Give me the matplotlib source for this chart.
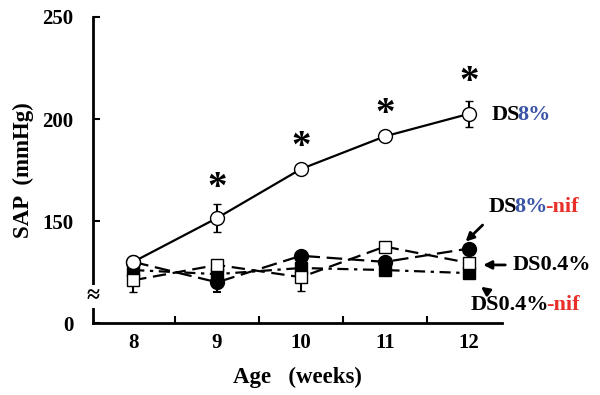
import matplotlib
matplotlib.use("Agg")
import matplotlib.pyplot as plt
import numpy as np

plt.rcParams['font.family'] = ['Liberation Serif', 'DejaVu Serif']
plt.rcParams['font.weight'] = 'bold'

weeks = [8, 9, 10, 11, 12]

# SAP (mmHg)
ds8 = [130, 151.5, 175.5, 191.5, 202.5]
ds8_err = [0, 7, 0, 0, 6.5]
ds8_nif = [130, 120, 133, 130, 136.5]
ds8_nif_err = [0, 5, 0, 0, 0]
ds04 = [121, 128.5, 122.5, 137.5, 129.5]
ds04_err = [6, 0, 7, 0, 0]
ds04_nif = [126, 124, 127, 126, 124.5]

star_weeks = [9, 10, 11, 12]
star_y = [166, 186, 202, 218]

ytick_vals = [100, 150, 200, 250]
ytick_labels = ['0', '150', '200', '250']

BLUE = '#3b55a6'
RED = '#e8302a'

fig = plt.figure(figsize=(6, 3.95), dpi=100)
ax = fig.add_axes([0.155, 0.182, 0.682, 0.775])

ax.errorbar(weeks, ds04_nif, color='black', lw=1.6, ls=(0, (5, 2.5, 1.5, 2.5)),
            marker='s', ms=8.5, mfc='black', mec='black', zorder=3)
ax.errorbar(weeks, ds04, yerr=[ds04_err, [0] * 5], color='black', lw=1.6,
            ls=(0, (6, 3)), marker='s', ms=8.5, mfc='white', mec='black',
            mew=1, capsize=3, elinewidth=1.5, capthick=1.5, zorder=4)
ax.errorbar(weeks, ds8_nif, yerr=[ds8_nif_err, [0] * 5], color='black', lw=1.6,
            ls=(0, (7, 3)), marker='o', ms=10, mfc='black', mec='black',
            capsize=3, elinewidth=1.5, capthick=1.5, zorder=5)
ax.errorbar(weeks, ds8, yerr=ds8_err, color='black', lw=1.6, ls='-',
            marker='o', ms=10, mfc='white', mec='black', mew=1,
            capsize=3, elinewidth=1.5, capthick=1.5, zorder=6)

for x, y in zip(star_weeks, star_y):
    ax.text(x, y, '*', ha='center', va='center', fontsize=28, fontweight='bold')

ax.set_xlim(7.52, 12.4)
ax.set_ylim(100, 250)
ax.set_xticks(weeks)
ax.set_xticks([8.5, 9.5, 10.5, 11.5], minor=True)
ax.tick_params(axis='x', which='major', length=0, labelsize=15, pad=7)
ax.tick_params(axis='x', which='minor', direction='in', length=5, width=1.5)
ax.set_yticks(ytick_vals)
ax.set_yticklabels(ytick_labels)
ax.tick_params(axis='y', direction='in', length=5, width=1.5, labelsize=15, pad=14)
for lab in ax.get_xticklabels() + ax.get_yticklabels():
    lab.set_fontweight('bold')

for s in ['top', 'right']:
    ax.spines[s].set_visible(False)
for s in ['left', 'bottom']:
    ax.spines[s].set_linewidth(2)

# axis break mark
ax.text(0, 113, '≈', transform=ax.get_yaxis_transform(), ha='center', va='center',
        fontsize=17, fontweight='bold',
        bbox=dict(facecolor='white', edgecolor='none', pad=0.5), zorder=10)

ax.set_ylabel('SAP  (mmHg)', fontsize=16.5, fontweight='bold', labelpad=6)
ax.set_xlabel('Age   (weeks)', fontsize=16.5, fontweight='bold', labelpad=10)


def multi_text(x, y, parts, size=16):
    t = ax.text(x, y, parts[0][0], color=parts[0][1], fontsize=size,
                fontweight='bold', ha='left', va='center', clip_on=False)
    for s, c in parts[1:]:
        t = ax.annotate(s, xy=(1, 0), xycoords=t, xytext=(-2, 0),
                        textcoords='offset points', color=c, fontsize=size,
                        fontweight='bold', ha='left', va='bottom',
                        annotation_clip=False)


multi_text(12.27, 202, [('DS', 'black'), ('8%', BLUE)])
multi_text(12.24, 157, [('DS', 'black'), ('8%', BLUE), ('-nif', RED)])
multi_text(12.53, 128.5, [('DS0.4%', 'black')])
multi_text(12.02, 109, [('DS0.4%', 'black'), ('-nif', RED)])

arrow = dict(arrowstyle='-|>', color='black', lw=2, mutation_scale=12)
ax.annotate('', xy=(11.94, 139), xytext=(12.19, 149), arrowprops=arrow,
            annotation_clip=False)
ax.annotate('', xy=(12.14, 128.5), xytext=(12.47, 128.5), arrowprops=arrow,
            annotation_clip=False)
ax.annotate('', xy=(12.12, 118.6), xytext=(12.24, 115), arrowprops=arrow,
            annotation_clip=False)

fig.savefig('out.png', dpi=100)
